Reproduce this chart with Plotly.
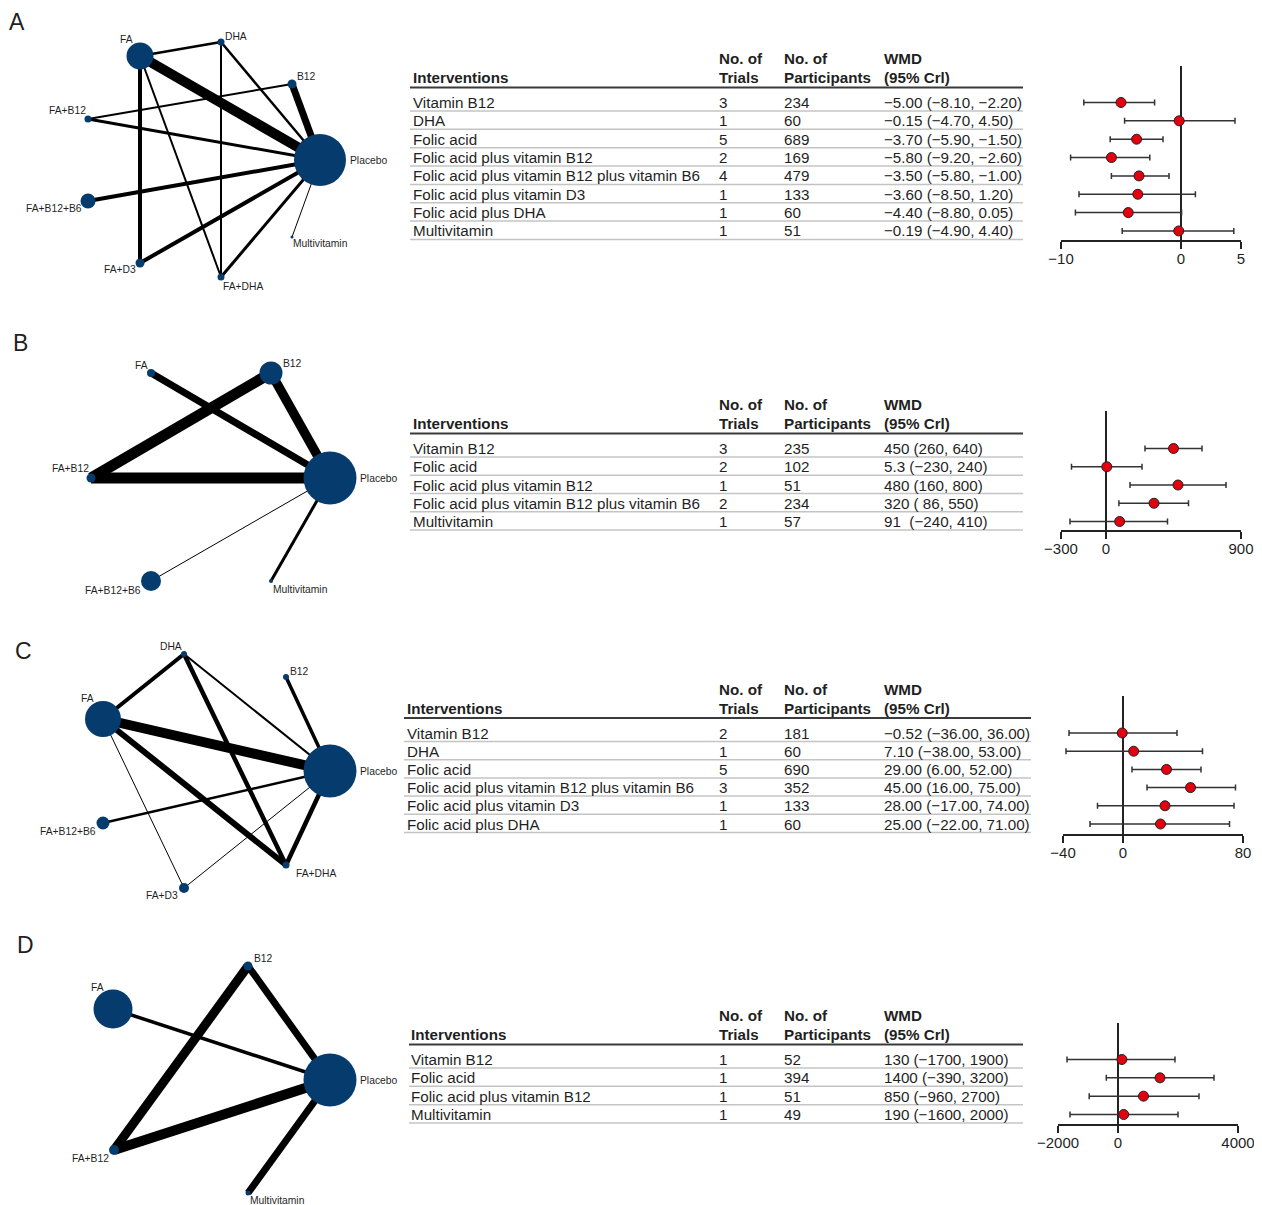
import plotly.graph_objects as go

W, H = 1262, 1205          # target page size
OFF = 8                    # page body margin of the html page
FW, FH = W - OFF, H - OFF  # figure size
FONT = "Liberation Sans, Arial, Helvetica, sans-serif"
TXT = "#1f1f1f"
NAVY = "#053C6D"
RED = "#E3000F"

# ---------------- Panel A data ----------------
A_nodes = ["FA", "DHA", "B12", "FA+B12", "Placebo", "FA+B12+B6", "FA+D3", "FA+DHA", "Multivitamin"]
A_node_x = [140, 221, 292, 88, 320, 88, 140, 221, 292]
A_node_y = [56, 42, 84, 119, 160, 201, 263, 277, 237]
A_node_size = [27, 7, 9, 7, 52, 15, 9, 7, 3]
A_edges = [("FA", "DHA", 2.5), ("FA", "Placebo", 10), ("FA", "FA+D3", 4), ("FA", "FA+DHA", 2),
           ("DHA", "FA+DHA", 2), ("DHA", "Placebo", 2.5), ("B12", "Placebo", 7), ("B12", "FA+B12", 2),
           ("FA+B12", "Placebo", 3), ("FA+B12+B6", "Placebo", 4), ("FA+D3", "Placebo", 4),
           ("FA+DHA", "Placebo", 3), ("Multivitamin", "Placebo", 1)]
A_interventions = ["Vitamin B12", "DHA", "Folic acid", "Folic acid plus vitamin B12",
                   "Folic acid plus vitamin B12 plus vitamin B6", "Folic acid plus vitamin D3",
                   "Folic acid plus DHA", "Multivitamin"]
A_trials = [3, 1, 5, 2, 4, 1, 1, 1]
A_participants = [234, 60, 689, 169, 479, 133, 60, 51]
A_wmd = [-5.00, -0.15, -3.70, -5.80, -3.50, -3.60, -4.40, -0.19]
A_lo = [-8.10, -4.70, -5.90, -9.20, -5.80, -8.50, -8.80, -4.90]
A_hi = [-2.20, 4.50, -1.50, -2.60, -1.00, 1.20, 0.05, 4.40]
A_wmd_text = ["−5.00 (−8.10, −2.20)", "−0.15 (−4.70, 4.50)", "−3.70 (−5.90, −1.50)",
              "−5.80 (−9.20, −2.60)", "−3.50 (−5.80, −1.00)", "−3.60 (−8.50, 1.20)",
              "−4.40 (−8.80, 0.05)", "−0.19 (−4.90, 4.40)"]
A_ticks = [-10, 0, 5]

# ---------------- Panel B data ----------------
B_nodes = ["FA", "B12", "FA+B12", "Placebo", "FA+B12+B6", "Multivitamin"]
B_node_x = [151, 271, 91, 330, 151, 271]
B_node_y = [43, 43, 148, 148, 251, 251]
B_node_size = [8, 23, 9, 53, 20, 4]
B_edges = [("FA", "Placebo", 7), ("B12", "FA+B12", 11), ("B12", "Placebo", 9.5),
           ("FA+B12", "Placebo", 11), ("FA+B12+B6", "Placebo", 1), ("Multivitamin", "Placebo", 3)]
B_interventions = ["Vitamin B12", "Folic acid", "Folic acid plus vitamin B12",
                   "Folic acid plus vitamin B12 plus vitamin B6", "Multivitamin"]
B_trials = [3, 2, 1, 2, 1]
B_participants = [235, 102, 51, 234, 57]
B_wmd = [450, 5.3, 480, 320, 91]
B_lo = [260, -230, 160, 86, -240]
B_hi = [640, 240, 800, 550, 410]
B_wmd_text = ["450 (260, 640)", "5.3 (−230, 240)", "480 (160, 800)", "320 ( 86, 550)", "91  (−240, 410)"]
B_ticks = [-300, 0, 900]

# ---------------- Panel C data ----------------
C_nodes = ["DHA", "B12", "FA", "Placebo", "FA+B12+B6", "FA+DHA", "FA+D3"]
C_node_x = [184, 286, 103, 330, 103, 286, 184]
C_node_y = [24, 47, 89, 141, 193, 235, 258]
C_node_size = [6, 6, 36, 53, 13, 7, 10]
C_edges = [("FA", "DHA", 4), ("FA", "Placebo", 10), ("FA", "FA+DHA", 6), ("FA", "FA+D3", 1),
           ("DHA", "FA+DHA", 4.5), ("DHA", "Placebo", 2), ("B12", "Placebo", 3.5),
           ("FA+B12+B6", "Placebo", 2.5), ("FA+D3", "Placebo", 1), ("FA+DHA", "Placebo", 4.5)]
C_interventions = ["Vitamin B12", "DHA", "Folic acid", "Folic acid plus vitamin B12 plus vitamin B6",
                   "Folic acid plus vitamin D3", "Folic acid plus DHA"]
C_trials = [2, 1, 5, 3, 1, 1]
C_participants = [181, 60, 690, 352, 133, 60]
C_wmd = [-0.52, 7.10, 29.00, 45.00, 28.00, 25.00]
C_lo = [-36.00, -38.00, 6.00, 16.00, -17.00, -22.00]
C_hi = [36.00, 53.00, 52.00, 75.00, 74.00, 71.00]
C_wmd_text = ["−0.52 (−36.00, 36.00)", "7.10 (−38.00, 53.00)", "29.00 (6.00, 52.00)",
              "45.00 (16.00, 75.00)", "28.00 (−17.00, 74.00)", "25.00 (−22.00, 71.00)"]
C_ticks = [-40, 0, 80]

# ---------------- Panel D data ----------------
D_nodes = ["B12", "FA", "Placebo", "FA+B12", "Multivitamin"]
D_node_x = [248, 113, 330, 114, 248]
D_node_y = [36, 79, 150, 220, 263]
D_node_size = [9, 39, 53, 10, 5]
D_edges = [("B12", "FA+B12", 9), ("B12", "Placebo", 7), ("FA", "Placebo", 3.5),
           ("FA+B12", "Placebo", 10), ("Multivitamin", "Placebo", 7)]
D_interventions = ["Vitamin B12", "Folic acid", "Folic acid plus vitamin B12", "Multivitamin"]
D_trials = [1, 1, 1, 1]
D_participants = [52, 394, 51, 49]
D_wmd = [130, 1400, 850, 190]
D_lo = [-1700, -390, -960, -1600]
D_hi = [1900, 3200, 2700, 2000]
D_wmd_text = ["130 (−1700, 1900)", "1400 (−390, 3200)", "850 (−960, 2700)", "190 (−1600, 2000)"]
D_ticks = [-2000, 0, 4000]

# label offsets (text centre relative to node, px) -- styling
LABEL_OFF = {
    "A": {"FA": (-14, -17), "DHA": (15, -6), "B12": (14, -8), "FA+B12": (-21, -9), "Placebo": (48, 0),
          "FA+B12+B6": (-34, 7), "Multivitamin": (28, 6), "FA+D3": (-20, 6), "FA+DHA": (22, 9)},
    "B": {"FA": (-10, -8), "B12": (21, -10), "FA+B12": (-21, -10), "Placebo": (48, 0),
          "FA+B12+B6": (-38, 9), "Multivitamin": (29, 8)},
    "C": {"DHA": (-13, -8), "B12": (13, -6), "FA": (-16, -21), "Placebo": (48, 0),
          "FA+B12+B6": (-35, 8), "FA+DHA": (30, 8), "FA+D3": (-22, 7)},
    "D": {"B12": (15, -8), "FA": (-16, -22), "Placebo": (48, 0), "FA+B12": (-24, 8), "Multivitamin": (29, 7)},
}

panels = [
    dict(letter="A", lpos=(17, 22), top=0, nodes=A_nodes, nx=A_node_x, ny=A_node_y, ns=A_node_size, edges=A_edges,
         iv=A_interventions, tr=A_trials, pa=A_participants, wt=A_wmd_text, est=A_wmd, lo=A_lo, hi=A_hi,
         ticks=A_ticks, row0=102.5, step=18.35, tx=412, line=(410, 1023), fx=(1061, 1241), ztop=66, axis=240),
    dict(letter="B", lpos=(20, 343), top=330, nodes=B_nodes, nx=B_node_x, ny=B_node_y, ns=B_node_size, edges=B_edges,
         iv=B_interventions, tr=B_trials, pa=B_participants, wt=B_wmd_text, est=B_wmd, lo=B_lo, hi=B_hi,
         ticks=B_ticks, row0=448.5, step=18.25, tx=412, line=(410, 1023), fx=(1061, 1241), ztop=411, axis=530),
    dict(letter="C", lpos=(23, 651), top=630, nodes=C_nodes, nx=C_node_x, ny=C_node_y, ns=C_node_size, edges=C_edges,
         iv=C_interventions, tr=C_trials, pa=C_participants, wt=C_wmd_text, est=C_wmd, lo=C_lo, hi=C_hi,
         ticks=C_ticks, row0=733, step=18.2, tx=406, line=(404, 1031), fx=(1063, 1243), ztop=696, axis=834),
    dict(letter="D", lpos=(25, 945), top=930, nodes=D_nodes, nx=D_node_x, ny=D_node_y, ns=D_node_size, edges=D_edges,
         iv=D_interventions, tr=D_trials, pa=D_participants, wt=D_wmd_text, est=D_wmd, lo=D_lo, hi=D_hi,
         ticks=D_ticks, row0=1059.5, step=18.33, tx=410, line=(409, 1023), fx=(1058, 1238), ztop=1023, axis=1124),
]

TFS = 15.2  # table font size

layout = dict(width=FW, height=FH, margin=dict(l=0, r=0, t=0, b=0, pad=0, autoexpand=False),
              paper_bgcolor="white", plot_bgcolor="rgba(0,0,0,0)", showlegend=False,
              font=dict(family=FONT, color=TXT))
annotations, shapes, traces = [], [], []
_n = [0]


def clamp(v):
    return max(0.0, min(1.0, v))


def px_x(px):
    return (px - OFF) / FW


def px_y(py):
    return 1 - (py - OFF) / FH


def new_axes(xdom, ydom, xrange, yrange, xopts=None):
    _n[0] += 1
    n = _n[0]
    sfx = "" if n == 1 else str(n)
    xid, yid = "x" + sfx, "y" + sfx
    base = dict(showgrid=False, zeroline=False, showline=False, showticklabels=False, ticks="", fixedrange=True,
                automargin=False)
    xa = dict(base, domain=[clamp(px_x(xdom[0])), clamp(px_x(xdom[1]))], range=xrange, anchor=yid)
    ya = dict(base, domain=[clamp(px_y(ydom[1])), clamp(px_y(ydom[0]))], range=yrange, anchor=xid)
    if xopts:
        xa.update(xopts)
    layout["xaxis" + sfx] = xa
    layout["yaxis" + sfx] = ya
    return xid, yid


def fmt_tick(v):
    return ("−" + str(abs(v))) if v < 0 else str(v)


for p in panels:
    # panel letter
    annotations.append(dict(text=p["letter"], x=px_x(p["lpos"][0]), y=px_y(p["lpos"][1]), xref="paper", yref="paper",
                            showarrow=False, xanchor="center", yanchor="middle",
                            font=dict(size=23, family=FONT, color=TXT)))
    # ---- network ----
    t0 = max(p["top"] - 10, OFF)
    t1 = min(p["top"] + 292, H)
    xid, yid = new_axes((OFF, 400), (t0, t1), [OFF, 400], [t1 - p["top"], t0 - p["top"]])
    idx = {n: i for i, n in enumerate(p["nodes"])}
    for a, b, w in p["edges"]:
        ia, ib = idx[a], idx[b]
        traces.append(go.Scatter(x=[p["nx"][ia], p["nx"][ib]], y=[p["ny"][ia], p["ny"][ib]], mode="lines",
                                 line=dict(color="#000000", width=w), xaxis=xid, yaxis=yid,
                                 hoverinfo="skip", cliponaxis=False))
    traces.append(go.Scatter(x=p["nx"], y=p["ny"], mode="markers", text=p["nodes"],
                             marker=dict(size=p["ns"], color=NAVY, opacity=1, line=dict(width=0)),
                             xaxis=xid, yaxis=yid, cliponaxis=False, hoverinfo="text"))
    offs = LABEL_OFF[p["letter"]]
    for i, n in enumerate(p["nodes"]):
        dx, dy = offs[n]
        annotations.append(dict(text=n, x=p["nx"][i], y=p["ny"][i], xref=xid, yref=yid, showarrow=False,
                                xanchor="center", yanchor="middle", xshift=dx, yshift=-dy,
                                font=dict(size=10.3, family=FONT, color=TXT)))
    # ---- table ----
    nrow = len(p["iv"])
    r0, st = p["row0"], p["step"]
    top_px, bot_px = r0 - 62, r0 + (nrow - 1) * st + 14
    txid, tyid = new_axes((400, 1040), (top_px, bot_px), [400, 1040],
                          [(bot_px - r0) / st, (top_px - r0) / st])
    cols = [p["tx"], 718, 783, 883]
    y_no, y_tr = -44 / st, -25 / st
    hdr = [(cols[0], y_tr, "Interventions"), (cols[1], y_no, "No. of"), (cols[1], y_tr, "Trials"),
           (cols[2], y_no, "No. of"), (cols[2], y_tr, "Participants"), (cols[3], y_no, "WMD"),
           (cols[3], y_tr, "(95% Crl)")]
    for x, y, t in hdr:
        annotations.append(dict(text="<b>%s</b>" % t, x=x, y=y, xref=txid, yref=tyid, showarrow=False,
                                xanchor="left", yanchor="middle", xshift=-1,
                                font=dict(size=TFS, family=FONT, color=TXT)))
    shapes.append(dict(type="line", xref=txid, yref=tyid, x0=p["line"][0], x1=p["line"][1],
                       y0=-15 / st, y1=-15 / st, line=dict(color="#3a3a3a", width=2)))
    for i in range(nrow):
        for x, t in zip(cols, [p["iv"][i], str(p["tr"][i]), str(p["pa"][i]), p["wt"][i]]):
            annotations.append(dict(text=t, x=x, y=i, xref=txid, yref=tyid, showarrow=False,
                                    xanchor="left", yanchor="middle", xshift=-1,
                                    font=dict(size=TFS, family=FONT, color=TXT)))
        shapes.append(dict(type="line", xref=txid, yref=tyid, x0=p["line"][0], x1=p["line"][1],
                           y0=i + 8.5 / st, y1=i + 8.5 / st, line=dict(color="#c4c4c4", width=1.5)))
    # ---- forest ----
    tk = p["ticks"]
    fxid, fyid = new_axes(p["fx"], (p["ztop"], p["axis"]), [tk[0], tk[-1]],
                          [(p["axis"] - r0) / st, (p["ztop"] - r0) / st],
                          xopts=dict(showline=True, linecolor="#222", linewidth=1.5, ticks="outside", ticklen=7,
                                     tickwidth=1.5, tickcolor="#222", tickvals=tk, ticklabelstandoff=-3,
                                     ticktext=[fmt_tick(v) for v in tk], showticklabels=True,
                                     tickfont=dict(size=15, family=FONT, color=TXT),
                                     zeroline=True, zerolinecolor="#222", zerolinewidth=1.5))
    traces.append(go.Scatter(x=p["est"], y=list(range(nrow)), mode="markers",
                             error_x=dict(type="data", symmetric=False,
                                          array=[h - e for h, e in zip(p["hi"], p["est"])],
                                          arrayminus=[e - l for e, l in zip(p["est"], p["lo"])],
                                          color="#333", thickness=1.5, width=3),
                             marker=dict(size=10, color=RED, opacity=1, line=dict(color="#222", width=1)),
                             xaxis=fxid, yaxis=fyid, cliponaxis=False))

layout["annotations"] = annotations
layout["shapes"] = shapes
fig = go.Figure(data=traces, layout=layout)
fig.write_html("out.html")
